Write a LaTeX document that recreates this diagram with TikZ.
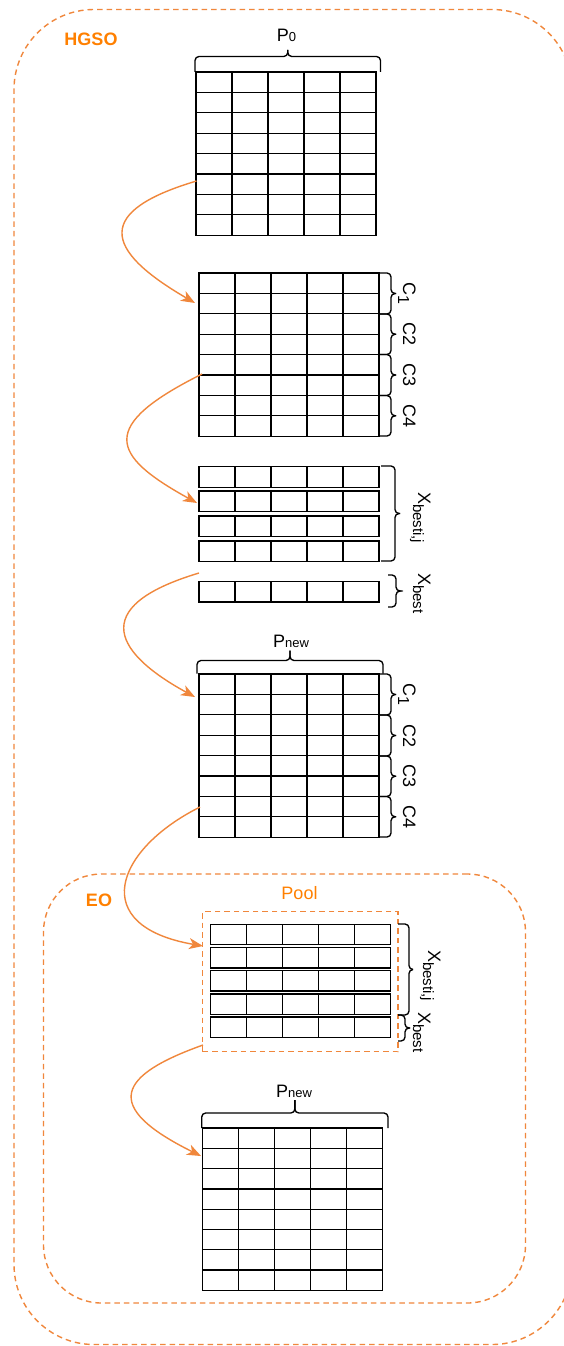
\documentclass[tikz,border=0pt]{standalone}
\usepackage{fontspec}
\setmainfont{Liberation Sans}
\usetikzlibrary{arrows.meta}
\definecolor{ora}{RGB}{240,135,60}
\definecolor{orat}{RGB}{255,128,0}

\newcommand\mkgrid[6]{% name, x, y, rows, row height, width
  \pgfmathsetmacro\gh{#4*#5}%
  \pgfmathsetmacro\cw{#6/5}%
  \node[gridbox, minimum width=#6pt, minimum height=\gh pt] (#1) at (#2,#3) {};
  \foreach \c in {1,...,4}{\draw[gridline] ([xshift=\c*\cw pt]#1.north west) -- ([xshift=\c*\cw pt]#1.south west);}
  \ifnum#4>1
    \pgfmathtruncatemacro\nr{#4-1}%
    \foreach \r in {1,...,\nr}{\draw[gridline] ([yshift=-\r*#5 pt]#1.north west) -- ([yshift=-\r*#5 pt]#1.north east);}
  \fi
}
% right brace: x0, ytop, ybot, body offset, tip offset
\newcommand\bracer[5]{%
  \pgfmathsetmacro\bym{(#2+#3)/2}%
  \pgfmathsetmacro\bxb{#1+#4}%
  \pgfmathsetmacro\bxt{#1+#5}%
  \draw[brc] (#1,#2) -- (\bxb,#2) -- (\bxb,\bym) -- (\bxt,\bym);
  \draw[brc] (#1,#3) -- (\bxb,#3) -- (\bxb,\bym) -- (\bxt,\bym);
}
% top brace: y0, xleft, xright, body offset, tip offset
\newcommand\bracet[5]{%
  \pgfmathsetmacro\bxm{(#2+#3)/2}%
  \pgfmathsetmacro\byb{#1-#4}%
  \pgfmathsetmacro\byt{#1-#5}%
  \draw[brc] (#2,#1) -- (#2,\byb) -- (\bxm,\byb) -- (\bxm,\byt);
  \draw[brc] (#3,#1) -- (#3,\byb) -- (\bxm,\byb) -- (\bxm,\byt);
}

\begin{document}
\begin{tikzpicture}[x=1pt,y=-1pt,
  gridbox/.style={draw=black, line width=1.35pt, inner sep=0pt, outer sep=0pt, anchor=north west, fill=white},
  gridline/.style={draw=black, line width=1.35pt},
  brc/.style={draw=black, line width=1.35pt, rounded corners=4pt},
  dsh/.style={draw=ora, line width=1.4pt, dash pattern=on 5.5pt off 4pt, inner sep=0pt, outer sep=0pt, anchor=north west},
  arr/.style={draw=ora, line width=1.4pt, -{Stealth[length=14pt,width=11pt,inset=4pt]}},
  lbl/.style={inner sep=0pt, outer sep=0pt, font=\fontsize{18}{18}\selectfont},
  vlbl/.style={lbl, rotate=-90},
  olbl/.style={lbl, text=orat, anchor=base},
]
\fill[white] (0,0) rectangle (563,1346);
\useasboundingbox (0,0) rectangle (563,1346);

% containers
\node[dsh, rounded corners=80pt, minimum width=558pt, minimum height=1335pt] (hgsobox) at (14,9.5) {};
\node[dsh, rounded corners=58pt, minimum width=482pt, minimum height=429pt] (eobox) at (43.5,874) {};
\node[dsh, minimum width=195.3pt, minimum height=140pt] (pool) at (202.7,911.7) {};

\node[olbl, font=\bfseries\fontsize{18}{18}\selectfont] (hgso) at (91,45.7) {HGSO};
\node[olbl, font=\bfseries\fontsize{18}{18}\selectfont] (eo) at (99,906.7) {EO};
\node[olbl] (poollbl) at (299.5,899) {Pool};

% grid 1 : P0
\mkgrid{g1}{196}{72}{8}{20.4}{180}
\bracet{72}{195}{380.5}{15.5}{22}
\node[lbl, anchor=base] (p0) at (286.5,41.7) {P{\fontsize{13}{13}\selectfont 0}};

% grid 2 : C1..C4
\mkgrid{g2}{199}{273}{8}{20.4}{180}
\bracer{379.5}{273}{314}{11.5}{16.5}
\bracer{379.5}{314}{354.5}{11.5}{16.5}
\bracer{379.5}{354.5}{395.5}{11.5}{16.5}
\bracer{379.5}{395.5}{436}{11.5}{16.5}
\node[vlbl, anchor=base] (g2c1) at (403,293.5) {C\raisebox{-5pt}{\fontsize{16}{16}\selectfont 1}};
\node[vlbl, anchor=base] (g2c2) at (403,334.5) {C2};
\node[vlbl, anchor=base] (g2c3) at (403,375) {C3};
\node[vlbl, anchor=base] (g2c4) at (403,416) {C4};

% grid 3 : X best i,j strips and X best
\mkgrid{s1}{199}{466.7}{1}{20.6}{180}
\mkgrid{s2}{199}{491}{1}{20.6}{180}
\mkgrid{s3}{199}{516}{1}{20.6}{180}
\mkgrid{s4}{199}{541}{1}{20.6}{180}
\mkgrid{sb}{199}{581.5}{1}{20.4}{180}
\bracer{381}{466}{561}{14}{19}
\bracer{388}{575}{607}{8}{11}
\node[vlbl, anchor=base west] (xbij) at (418,492) {X\raisebox{-5pt}{\fontsize{15}{15}\selectfont besti,j}};
\node[vlbl, anchor=base west] (xb) at (418,573) {X\raisebox{-5pt}{\fontsize{15}{15}\selectfont best}};

% grid 4 : Pnew with C1..C4
\mkgrid{g4}{199}{674}{8}{20.4}{180}
\bracet{673.5}{197}{383}{13}{23}
\node[lbl, anchor=base] (pn1) at (291,647) {P{\fontsize{13}{13}\selectfont new}};
\bracer{379.5}{674}{715}{11.5}{16.5}
\bracer{379.5}{715}{756}{11.5}{16.5}
\bracer{379.5}{756}{796.5}{11.5}{16.5}
\bracer{379.5}{796.5}{837}{11.5}{16.5}
\node[vlbl, anchor=base] (g4c1) at (403,694.5) {C\raisebox{-5pt}{\fontsize{16}{16}\selectfont 1}};
\node[vlbl, anchor=base] (g4c2) at (403,735.5) {C2};
\node[vlbl, anchor=base] (g4c3) at (403,776) {C3};
\node[vlbl, anchor=base] (g4c4) at (403,817) {C4};

% pool strips
\mkgrid{p1}{210.3}{924.3}{1}{20.4}{180.5}
\mkgrid{p2}{210.3}{947.5}{1}{20.4}{180.5}
\mkgrid{p3}{210.3}{970.7}{1}{20.4}{180.5}
\mkgrid{p4}{210.3}{993.9}{1}{20.4}{180.5}
\mkgrid{p5}{210.3}{1017.1}{1}{20.4}{180.5}
\bracer{398}{924}{1015}{11}{15}
\bracer{398}{1015}{1041}{7}{12}
\node[vlbl, anchor=base west] (pxbij) at (428,950) {X\raisebox{-5pt}{\fontsize{15}{15}\selectfont besti,j}};
\node[vlbl, anchor=base west] (pxb) at (418,1012) {X\raisebox{-5pt}{\fontsize{15}{15}\selectfont best}};

% grid 6 : final Pnew
\mkgrid{g6}{202.7}{1128}{8}{20.3}{180}
\bracet{1128}{201.7}{388}{15}{28}
\node[lbl, anchor=base] (pn2) at (294,1097) {P{\fontsize{13}{13}\selectfont new}};

% connectors
\coordinate (a1s) at (196.5,181);  \coordinate (a1e) at (195,303);
\coordinate (a2s) at (202,374);    \coordinate (a2e) at (197,503);
\coordinate (a3s) at (199,573);    \coordinate (a3e) at (195,697);
\coordinate (a4s) at (200,807);    \coordinate (a4e) at (203,946);
\coordinate (a5s) at (203,1045);   \coordinate (a5e) at (201,1156);
\draw[arr] (a1s) .. controls +(-101,30) and +(-93,-54) .. (a1e);
\draw[arr] (a2s) .. controls +(-104,52) and +(-87,-48) .. (a2e);
\draw[arr] (a3s) .. controls +(-115,34.5) and +(-77,-42) .. (a3e);
\draw[arr] (a4s) .. controls +(-85,42.5) and +(-116,-20) .. (a4e);
\draw[arr] (a5s) .. controls +(-84,30) and +(-101,-50) .. (a5e);
\end{tikzpicture}
\end{document}
